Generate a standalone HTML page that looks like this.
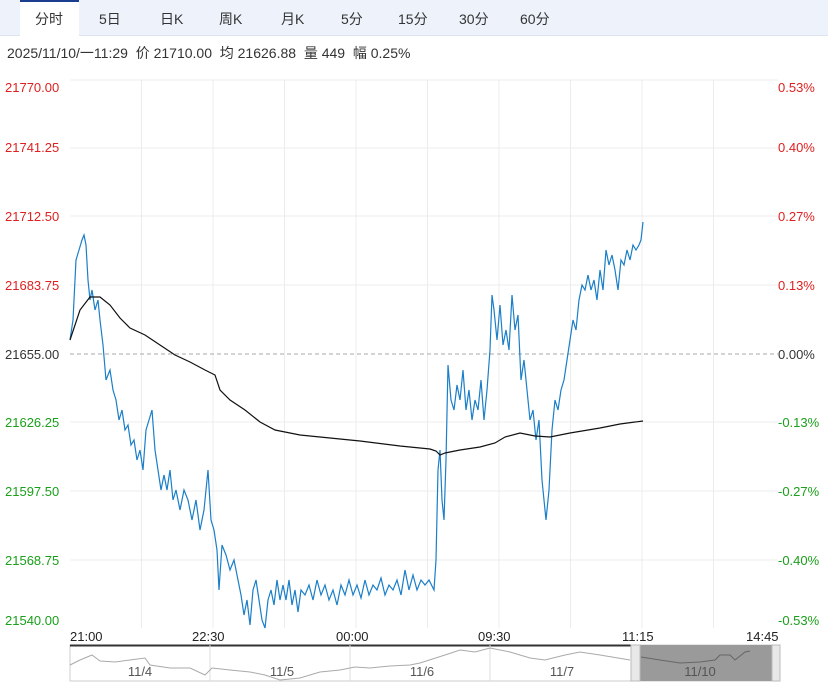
<!DOCTYPE html>
<html><head><meta charset="utf-8"><style>
body{margin:0;width:828px;height:687px;background:#fff;font-family:"Liberation Sans","Noto Sans CJK SC",sans-serif;overflow:hidden;position:relative}
.tabs{position:absolute;left:0;top:0;width:828px;height:35px;background:#eef3fb;border-bottom:1px solid #dce4f0}
.tab{position:absolute;top:9px;font-size:14px;color:#333}
.act{position:absolute;left:20px;top:0;width:59px;height:36px;background:#fff;border-top:2px solid #1a3d8f;box-sizing:border-box}
.info{position:absolute;left:7px;top:43px;font-size:14px;color:#333;white-space:pre}
.l{position:absolute;font-size:13px}
</style></head><body>
<div class="tabs"><div class="act"></div>
<span class="tab" style="left:35px">分时</span><span class="tab" style="left:99px">5日</span><span class="tab" style="left:160px">日K</span><span class="tab" style="left:219px">周K</span><span class="tab" style="left:281px">月K</span><span class="tab" style="left:341px">5分</span><span class="tab" style="left:398px">15分</span><span class="tab" style="left:459px">30分</span><span class="tab" style="left:520px">60分</span></div>
<div class="info">2025/11/10/一11:29  价 21710.00  均 21626.88  量 449  幅 0.25%</div>
<div class="l" style="left:5px;top:80px;color:#e02020">21770.00</div>
<div class="l" style="left:5px;top:140px;color:#e02020">21741.25</div>
<div class="l" style="left:5px;top:209px;color:#e02020">21712.50</div>
<div class="l" style="left:5px;top:278px;color:#e02020">21683.75</div>
<div class="l" style="left:5px;top:347px;color:#333">21655.00</div>
<div class="l" style="left:5px;top:415px;color:#1aa01a">21626.25</div>
<div class="l" style="left:5px;top:484px;color:#1aa01a">21597.50</div>
<div class="l" style="left:5px;top:553px;color:#1aa01a">21568.75</div>
<div class="l" style="left:5px;top:613px;color:#1aa01a">21540.00</div>
<div class="l" style="left:778px;top:80px;color:#e02020">0.53%</div>
<div class="l" style="left:778px;top:140px;color:#e02020">0.40%</div>
<div class="l" style="left:778px;top:209px;color:#e02020">0.27%</div>
<div class="l" style="left:778px;top:278px;color:#e02020">0.13%</div>
<div class="l" style="left:778px;top:347px;color:#333">0.00%</div>
<div class="l" style="left:778px;top:415px;color:#1aa01a">-0.13%</div>
<div class="l" style="left:778px;top:484px;color:#1aa01a">-0.27%</div>
<div class="l" style="left:778px;top:553px;color:#1aa01a">-0.40%</div>
<div class="l" style="left:778px;top:613px;color:#1aa01a">-0.53%</div>
<div class="l" style="left:70px;top:629px;color:#222">21:00</div>
<div class="l" style="left:192px;top:629px;color:#222">22:30</div>
<div class="l" style="left:336px;top:629px;color:#222">00:00</div>
<div class="l" style="left:478px;top:629px;color:#222">09:30</div>
<div class="l" style="left:622px;top:629px;color:#222">11:15</div>
<div class="l" style="left:746px;top:629px;color:#222">14:45</div>
<svg width="828" height="687" style="position:absolute;left:0;top:0">
<g stroke="#ececec" stroke-width="1">
<line x1="70" y1="148" x2="778" y2="148"/><line x1="70" y1="216" x2="778" y2="216"/><line x1="70" y1="285" x2="778" y2="285"/><line x1="70" y1="422" x2="778" y2="422"/><line x1="70" y1="491" x2="778" y2="491"/><line x1="70" y1="560" x2="778" y2="560"/><line x1="70" y1="80" x2="778" y2="80"/>
<line x1="141.5" y1="80" x2="141.5" y2="628"/><line x1="213" y1="80" x2="213" y2="628"/><line x1="284.5" y1="80" x2="284.5" y2="628"/><line x1="356" y1="80" x2="356" y2="628"/><line x1="427.5" y1="80" x2="427.5" y2="628"/><line x1="499" y1="80" x2="499" y2="628"/><line x1="570.5" y1="80" x2="570.5" y2="628"/><line x1="642" y1="80" x2="642" y2="628"/><line x1="713.5" y1="80" x2="713.5" y2="628"/>
</g>
<line x1="70" y1="354" x2="778" y2="354" stroke="#aaa" stroke-dasharray="4,3"/>
<polyline fill="none" stroke="#1a7fc8" stroke-width="1.2" points="70,340 73,320 76,260 79,250 82,240 84,235 86,245 88,280 90,300 92,290 95,310 98,300 100,320 103,345 106,380 110,370 113,390 116,400 119,420 122,410 125,430 128,425 131,445 134,440 137,460 140,450 143,470 146,430 149,420 152,410 155,450 158,470 161,490 164,475 167,490 170,470 173,500 176,490 180,510 184,490 188,500 192,520 196,500 200,530 204,510 208,470 211,520 214,530 217,550 219,590 222,545 226,555 230,570 234,560 238,580 241,595 244,615 247,600 250,625 253,590 256,580 259,600 262,620 265,628 268,600 271,590 274,605 277,580 280,600 283,585 286,600 289,580 292,605 295,590 298,612 301,590 305,595 309,585 313,600 317,580 321,595 325,585 329,600 333,590 337,605 341,585 345,595 349,580 353,595 357,585 361,598 365,580 369,595 373,585 377,590 381,578 385,595 389,585 393,590 397,580 401,595 405,570 409,590 413,575 417,590 421,580 425,585 429,580 434,590 436,560 438,470 440,450 442,500 444,520 446,460 448,365 451,400 454,410 457,385 460,400 463,370 466,410 469,390 472,420 475,400 478,410 481,380 484,420 487,390 490,350 492,295 494,310 497,340 500,305 503,345 506,330 509,350 512,295 515,330 518,315 521,380 524,360 527,390 530,420 533,410 536,440 539,420 542,480 544,500 546,520 549,490 552,430 555,400 558,410 561,390 564,380 567,360 570,340 573,320 576,330 579,300 582,285 585,290 588,275 591,290 594,280 597,300 600,270 603,290 606,250 609,265 612,255 615,270 618,290 621,260 624,265 627,250 630,260 633,245 636,250 639,245 641,240 643,222"/>
<polyline fill="none" stroke="#111" stroke-width="1.2" points="70,340 80,310 90,297 100,297 110,305 120,318 130,328 145,335 160,345 175,355 190,362 205,370 215,375 220,390 230,400 245,410 260,422 275,430 300,435 330,438 360,441 400,446 430,449 436,451 440,455 445,453 460,450 480,447 495,443 505,437 520,433 535,436 550,437 570,433 600,428 620,424 643,421"/>
<rect x="70" y="645" width="710" height="36" fill="#fff" stroke="#ccc"/>
<line x1="70" y1="645.5" x2="631" y2="645.5" stroke="#333" stroke-width="2"/>
<g stroke="#ddd"><line x1="210" y1="645" x2="210" y2="681"/><line x1="350" y1="645" x2="350" y2="681"/><line x1="490" y1="645" x2="490" y2="681"/></g>
<rect x="640" y="645" width="132" height="36" fill="#9a9a9a"/>
<rect x="631" y="645" width="9" height="36" fill="#e8e8e8" stroke="#bbb"/>
<rect x="772" y="645" width="8" height="36" fill="#e8e8e8" stroke="#bbb"/>
<polyline fill="none" stroke="#aaa" points="70,665 80,660 92,655 100,661 115,662 130,660 145,658 150,665 170,668 190,668 205,675 212,668 230,670 250,672 265,675 280,680 300,678 320,672 340,670 355,667 370,668 390,666 410,665 420,663 445,655 460,650 475,652 490,648 510,652 530,658 545,660 565,655 580,652 600,655 630,660"/>
<polyline fill="none" stroke="#666" points="641,657 660,660 680,663 700,662 715,660 720,655 730,655 735,660 745,652 750,651"/>
<g font-family="Liberation Sans" font-size="13" fill="#555" text-anchor="middle"><text x="140" y="676">11/4</text><text x="282" y="676">11/5</text><text x="422" y="676">11/6</text><text x="562" y="676">11/7</text><text x="700" y="676">11/10</text></g>
</svg>
</body></html>
